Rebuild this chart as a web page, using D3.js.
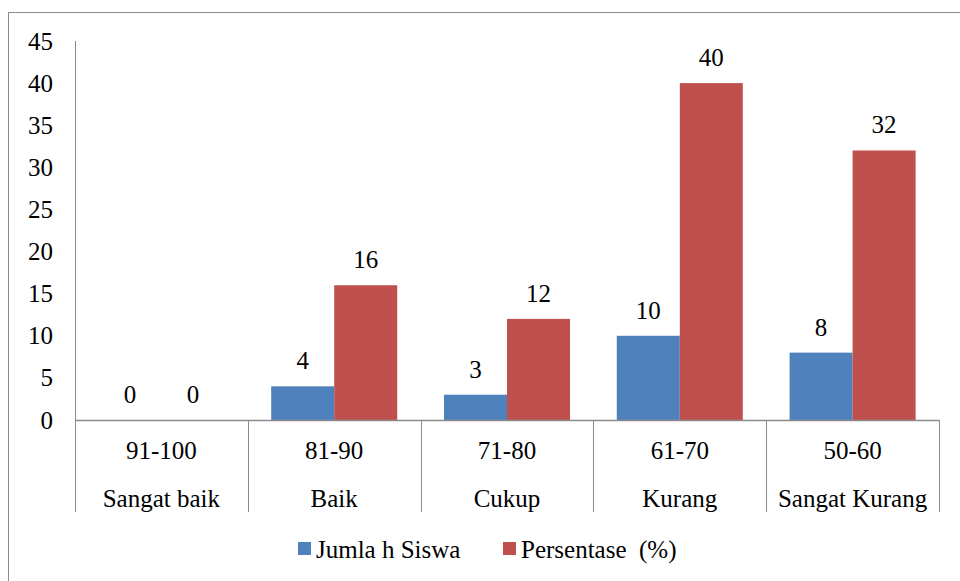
<!DOCTYPE html>
<html>
<head>
<meta charset="utf-8">
<script src="https://cdn.jsdelivr.net/npm/d3@7"></script>
<style>
  html, body { margin: 0; padding: 0; background: #fff; }
  svg { display: block; }
  svg text { font-family: "Liberation Serif", "Times New Roman", Times, "DejaVu Serif", serif; }
</style>
</head>
<body>
<svg id="chart" width="960" height="581"></svg>
<script>
// Score ranges and their grade names
const ranges = ["91-100", "81-90", "71-80", "61-70", "50-60"];
const grades = ["Sangat baik", "Baik", "Cukup", "Kurang", "Sangat Kurang"];
// Series values
const jumlahSiswa = [0, 4, 3, 10, 8];
const persentase = [0, 16, 12, 40, 32];
const seriesNames = ["Jumla h Siswa", "Persentase  (%)"];
const seriesColors = ["#4F81BD", "#C0504D"];
const yTicks = [0, 5, 10, 15, 20, 25, 30, 35, 40, 45];

const svg = d3.select("#chart");
const axisColor = "#8c8c8c";
const fontSize = 25;

// Outer frame
svg.append("rect")
  .attr("x", 8.5).attr("y", 12.5)
  .attr("width", 1000).attr("height", 1000)
  .attr("fill", "none").attr("stroke", axisColor).attr("stroke-width", 1);

const plot = { left: 75, right: 939, top: 41, bottom: 420 };

const x = d3.scaleBand().domain(ranges).range([plot.left, plot.right]).paddingInner(0).paddingOuter(0);
const inner = d3.scaleBand().domain([0, 1]).range([0, x.bandwidth()]).paddingInner(0).paddingOuter(0.371);
const y = d3.scaleLinear().domain([0, 45]).range([plot.bottom, plot.top]);

// Y axis labels
svg.append("g").selectAll("text").data(yTicks).join("text")
  .attr("x", 53).attr("y", d => y(d))
  .attr("dy", "0.34em")
  .attr("text-anchor", "end")
  .attr("font-size", fontSize)
  .text(d => d);

// Bars with value labels
const series = [jumlahSiswa, persentase];
series.forEach((vals, si) => {
  svg.append("g").selectAll("rect").data(vals).join("rect")
    .attr("x", (d, i) => x(ranges[i]) + inner(si))
    .attr("y", d => y(d))
    .attr("width", inner.bandwidth())
    .attr("height", d => plot.bottom - y(d))
    .attr("fill", seriesColors[si]);
  svg.append("g").selectAll("text").data(vals).join("text")
    .attr("x", (d, i) => x(ranges[i]) + inner(si) + inner.bandwidth() / 2)
    .attr("y", d => y(d) - 17)
    .attr("text-anchor", "middle")
    .attr("font-size", fontSize)
    .text(d => d);
});

// Axis lines
svg.append("line")
  .attr("x1", plot.left + 0.5).attr("x2", plot.left + 0.5)
  .attr("y1", plot.top).attr("y2", plot.bottom)
  .attr("stroke", axisColor);
svg.append("line")
  .attr("x1", plot.left).attr("x2", plot.right + 0.5)
  .attr("y1", plot.bottom + 0.5).attr("y2", plot.bottom + 0.5)
  .attr("stroke", axisColor).attr("stroke-width", 1.5);

// Category separators
const seps = ranges.map(r => x(r)).concat([plot.right]);
svg.append("g").selectAll("line").data(seps).join("line")
  .attr("x1", d => Math.round(d) + 0.5).attr("x2", d => Math.round(d) + 0.5)
  .attr("y1", plot.bottom).attr("y2", 512)
  .attr("stroke", axisColor);

// Category labels, two rows
svg.append("g").selectAll("text").data(ranges).join("text")
  .attr("x", d => x(d) + x.bandwidth() / 2)
  .attr("y", 450).attr("dy", "0.34em")
  .attr("text-anchor", "middle")
  .attr("font-size", fontSize)
  .text(d => d);
svg.append("g").selectAll("text").data(grades).join("text")
  .attr("x", (d, i) => x(ranges[i]) + x.bandwidth() / 2)
  .attr("y", 498).attr("dy", "0.34em")
  .attr("text-anchor", "middle")
  .attr("font-size", fontSize)
  .text(d => d);

// Legend
const legendX = [298, 503];
seriesNames.forEach((name, i) => {
  svg.append("rect")
    .attr("x", legendX[i]).attr("y", 542)
    .attr("width", 13).attr("height", 13)
    .attr("fill", seriesColors[i]);
  svg.append("text")
    .attr("x", legendX[i] + 18).attr("y", 549).attr("dy", "0.34em")
    .attr("font-size", fontSize)
    .attr("xml:space", "preserve")
    .style("white-space", "pre")
    .text(name);
});
</script>
</body>
</html>
